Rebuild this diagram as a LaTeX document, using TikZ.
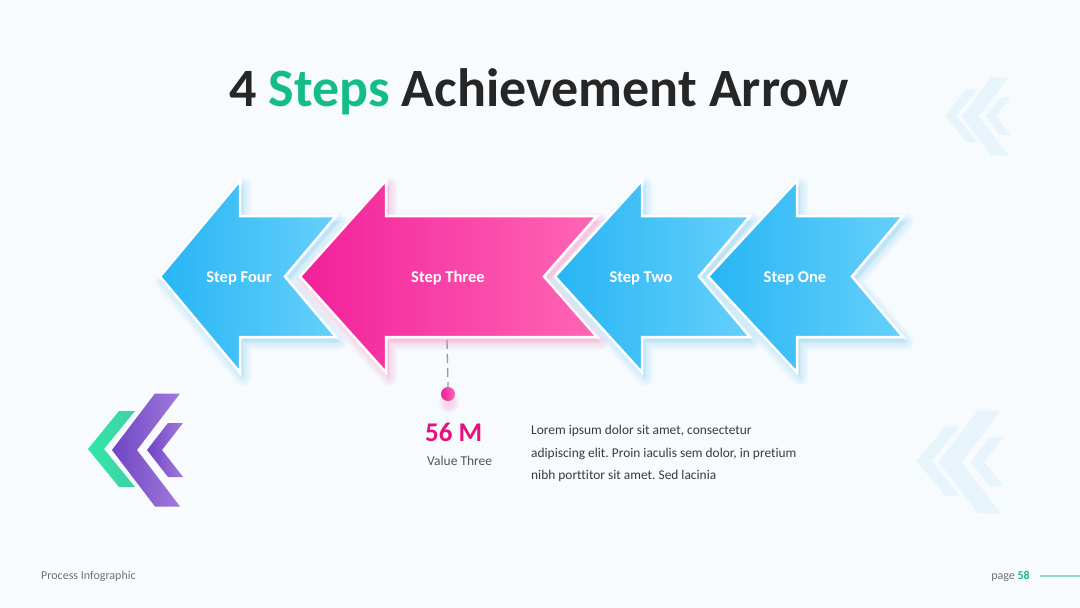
\documentclass[tikz,border=0pt]{standalone}
\usepackage{fontspec}
\setmainfont{Carlito}[Ligatures={NoCommon}]
\frenchspacing
\definecolor{bg}{HTML}{F7FBFE}
\definecolor{titlec}{HTML}{262626}
\definecolor{greenc}{HTML}{14BC88}
\definecolor{blueL}{HTML}{27B5F4}
\definecolor{blueR}{HTML}{66D0FB}
\definecolor{pinkL}{HTML}{F2209A}
\definecolor{pinkR}{HTML}{FF66B4}
\definecolor{valc}{HTML}{E5127D}
\definecolor{grayt}{HTML}{555555}
\definecolor{bodyt}{HTML}{3A3A3A}
\definecolor{footc}{HTML}{707070}
\definecolor{lineg}{HTML}{8ED9C0}
\definecolor{chgA}{HTML}{2EE8A8}
\definecolor{chgB}{HTML}{43CFA6}
\definecolor{chpA}{HTML}{6F45C4}
\definecolor{chpB}{HTML}{A07ADB}
\definecolor{faint}{HTML}{D3EBFA}
\definecolor{blueS}{HTML}{8CD2F5}
\definecolor{pinkS}{HTML}{F59AC9}
\newcommand{\stparrow}[5]{%
  \path[#1] (#2,276.5) -- ({#2+#3},180.5) -- ({#2+#3},216) -- (#4,216)
    -- ({#4-#5},276.5) -- (#4,337) -- ({#2+#3},337) -- ({#2+#3},372.5) -- cycle;}
% arrow with soft glow: colour of glow, fill style, tip x, head length, tail x, notch
\newcommand{\glowarrow}[6]{%
  \foreach \w in {16,12,8,4}{\stparrow{draw=#1, fill=#1, opacity=0.09, line width=\w pt, line join=round, shift={(3,5)}}{#3}{#4}{#5}{#6}}
  \stparrow{#2}{#3}{#4}{#5}{#6}}
% chevron: style, tipx, tipy, half height, dx, thickness
\newcommand{\chevron}[6]{%
  \path[#1] (#2,#3) -- ({#2+#5},{#3-#4}) -- ({#2+#5+#6},{#3-#4}) -- ({#2+#6},#3)
    -- ({#2+#5+#6},{#3+#4}) -- ({#2+#5},{#3+#4}) -- cycle;}
\newcommand{\chevgroup}[3]{% style green, style purple, style small
  \chevron{#1}{0}{56}{38}{31}{16}
  \chevron{#2}{24}{57}{56.5}{43}{25}
  \chevron{#3}{59}{57}{27}{21}{15}}
\tikzset{
  bluearrow/.style={left color=blueL, right color=blueR, draw=white, line width=2.5pt, line join=miter},
  pinkarrow/.style={left color=pinkL, right color=pinkR, draw=white, line width=2.5pt, line join=miter},
  steplabel/.style={text=white, font=\bfseries\fontsize{16.5}{18}\selectfont},
  fgreen/.style={left color=chgA, right color=chgB},
  fpurple/.style={left color=chpA, right color=chpB},
  ffaint/.style={fill=faint, opacity=0.42},
}
\begin{document}
\begin{tikzpicture}[x=1pt,y=-1pt]
\useasboundingbox (0,0) rectangle (1080,608);
\fill[bg] (0,0) rectangle (1080,608);

% title
\node[font=\bfseries\fontsize{54}{60}\selectfont, text=titlec] (title) at (539,92)
  {4 \textcolor{greenc}{Steps} Achievement Arrow};

% faint decorations
\begin{scope}[shift={(945,77)}, scale=0.69]
  \chevgroup{ffaint}{ffaint}{ffaint}
\end{scope}
\begin{scope}[shift={(917,410)}, scale=0.91]
  \chevgroup{ffaint}{ffaint}{ffaint}
\end{scope}
% bottom-left decoration
\begin{scope}[shift={(88,393)}]
  \chevgroup{fgreen}{fpurple}{fpurple}
\end{scope}

% arrows
\glowarrow{blueS}{bluearrow}{160}{80}{336}{51}
\glowarrow{pinkS}{pinkarrow}{300}{86}{597}{53}
\glowarrow{blueS}{bluearrow}{555}{87}{750}{51}
\glowarrow{blueS}{bluearrow}{708}{89}{903}{51}

\node[steplabel] (s4) at (239,278.5) {Step Four};
\node[steplabel] (s3) at (448,278.5) {Step Three};
\node[steplabel] (s2) at (641,278.5) {Step Two};
\node[steplabel] (s1) at (795,278.5) {Step One};

% connector
\coordinate (a3b) at (447,340);
\foreach \r in {10,8,6}{\fill[pinkS, opacity=0.12] (449,403) circle (\r);}
\node[circle, minimum size=14pt, inner sep=0pt, left color=pinkL, right color=pinkR] (dot) at (448,394) {};
\draw[gray!80, line width=1.3pt, dash pattern=on 9pt off 5pt] (a3b) -- (dot.north);

% value
\node[anchor=west, inner sep=0pt, text=valc, font=\bfseries\fontsize{27}{30}\selectfont] (val) at (425,432) {56 M};
\node[anchor=west, inner sep=0pt, text=grayt, font=\fontsize{13.5}{15}\selectfont] (vlab) at (427,461) {Value Three};
\node[anchor=north west, inner sep=0pt, text=bodyt, align=left, font=\fontsize{13.4}{22.5}\selectfont] (body) at (531,425)
  {Lorem ipsum dolor sit amet, consectetur\\adipiscing elit. Proin iaculis sem dolor, in pretium\\nibh porttitor sit amet. Sed lacinia};

% footer
\node[anchor=west, inner sep=0pt, text=footc, font=\fontsize{12}{14}\selectfont] (foot) at (41,576) {Process Infographic};
\node[anchor=east, inner sep=0pt, text=footc, font=\fontsize{12}{14}\selectfont] (pg) at (1030,576) {page \textcolor{greenc}{\bfseries 58}};
\coordinate (lineend) at (1080,576);
\draw[lineg, line width=1.2pt] ([xshift=10pt]pg.east) -- (lineend);
\end{tikzpicture}
\end{document}
